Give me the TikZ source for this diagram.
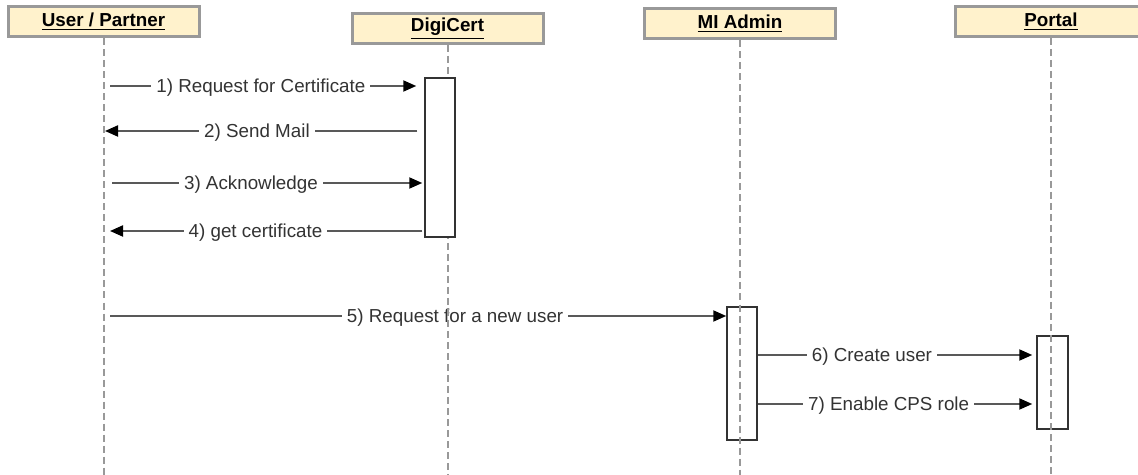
\documentclass[tikz,border=0pt]{standalone}
\usepackage{fontspec}
\setmainfont{Liberation Sans}
\usepackage{tikz}
\usetikzlibrary{arrows.meta, positioning}

\definecolor{headfill}{HTML}{FFF2CC}
\definecolor{headline}{HTML}{999999}
\definecolor{msgline}{HTML}{595959}
\definecolor{msgtext}{HTML}{333333}

\begin{document}
\begin{tikzpicture}[x=0.5pt, y=-0.5pt,
        font=\fontsize{9.4}{11}\selectfont,
        actor/.style={rectangle, draw=headline, fill=headfill, line width=1.5pt, minimum width=95.5pt, minimum height=15pt, inner sep=0pt, font=\fontsize{9.4}{11}\selectfont\bfseries},
        lifeline/.style={draw=headline, line width=1pt, dash pattern=on 3.5pt off 2pt},
        activation/.style={rectangle, draw=black!80, line width=0.75pt, minimum width=15pt, inner sep=0pt},
        msg/.style={draw=msgline, line width=1pt, -{Triangle[length=6.5pt, width=5.5pt, color=black]}},
        msglabel/.style={fill=white, text=msgtext, inner xsep=2.5pt, inner ysep=1pt, yshift=-0.6pt},
]
        \useasboundingbox (0,0) rectangle (1138,475);
        \clip (0,0) rectangle (1138,475);

        \node[actor] (user) at (103.5,22) {\underline{User / Partner}};
        \node[actor] (digicert) at (447.5,28.5) {\underline{DigiCert}};
        \node[actor] (miadmin) at (740,24) {\underline{MI Admin}};
        \node[actor] (portal) at (1051,21.5) {\underline{Portal}};
        \coordinate (bottom) at (0,475);

        % activation boxes
        \node[activation, minimum height=79.5pt] (digiact) at (440,157.5) {};
        \node[activation, minimum height=66.5pt] (miact) at (742,373.5) {};
        \node[activation, minimum height=46.5pt, minimum width=15.5pt] (portalact) at (1052.5,382.5) {};

        % message ends on the user lifeline
        \coordinate (ureq) at (110,86);
        \coordinate (umail) at (105,131);
        \coordinate (uack) at (112,183);
        \coordinate (ucert) at (110,231);
        \coordinate (unew) at (110,316);
        \coordinate (create) at (0,355);
        \coordinate (enable) at (0,404);

        \draw[msg, shorten >=4pt] (ureq) -- (ureq -| digiact.west) node[msglabel, pos=.48] {1) Request for Certificate};
        \draw[msg, shorten <=3.5pt] (umail -| digiact.west) -- (umail) node[msglabel, pos=.524] {2) Send Mail};
        \draw[msg, shorten >=1pt] (uack) -- (uack -| digiact.west) node[msglabel, pos=.445] {3) Acknowledge};
        \draw[msg, shorten <=1pt] (ucert -| digiact.west) -- (ucert) node[msglabel, pos=.537] {4) get certificate};
        \draw[msg] (unew) -- (unew -| miact.west) node[msglabel, pos=.56] {5) Request for a new user};
        \draw[msg, shorten >=2pt] (create -| miact.east) -- (create -| portalact.west) node[msglabel, pos=.41] {6) Create user};
        \draw[msg, shorten >=2pt] (enable -| miact.east) -- (enable -| portalact.west) node[msglabel, pos=.47] {7) Enable CPS role};

        % lifelines
        \draw[lifeline] (user.south) -- (user.south |- bottom);
        \draw[lifeline] (digicert.south) -- (digicert.south |- bottom);
        \draw[lifeline] (miadmin.south) -- (miadmin.south |- bottom);
        \draw[lifeline] (portal.south) -- (portal.south |- bottom);

        \node[activation, fill=white, minimum height=79.5pt] at (digiact) {};
\end{tikzpicture}
\end{document}
